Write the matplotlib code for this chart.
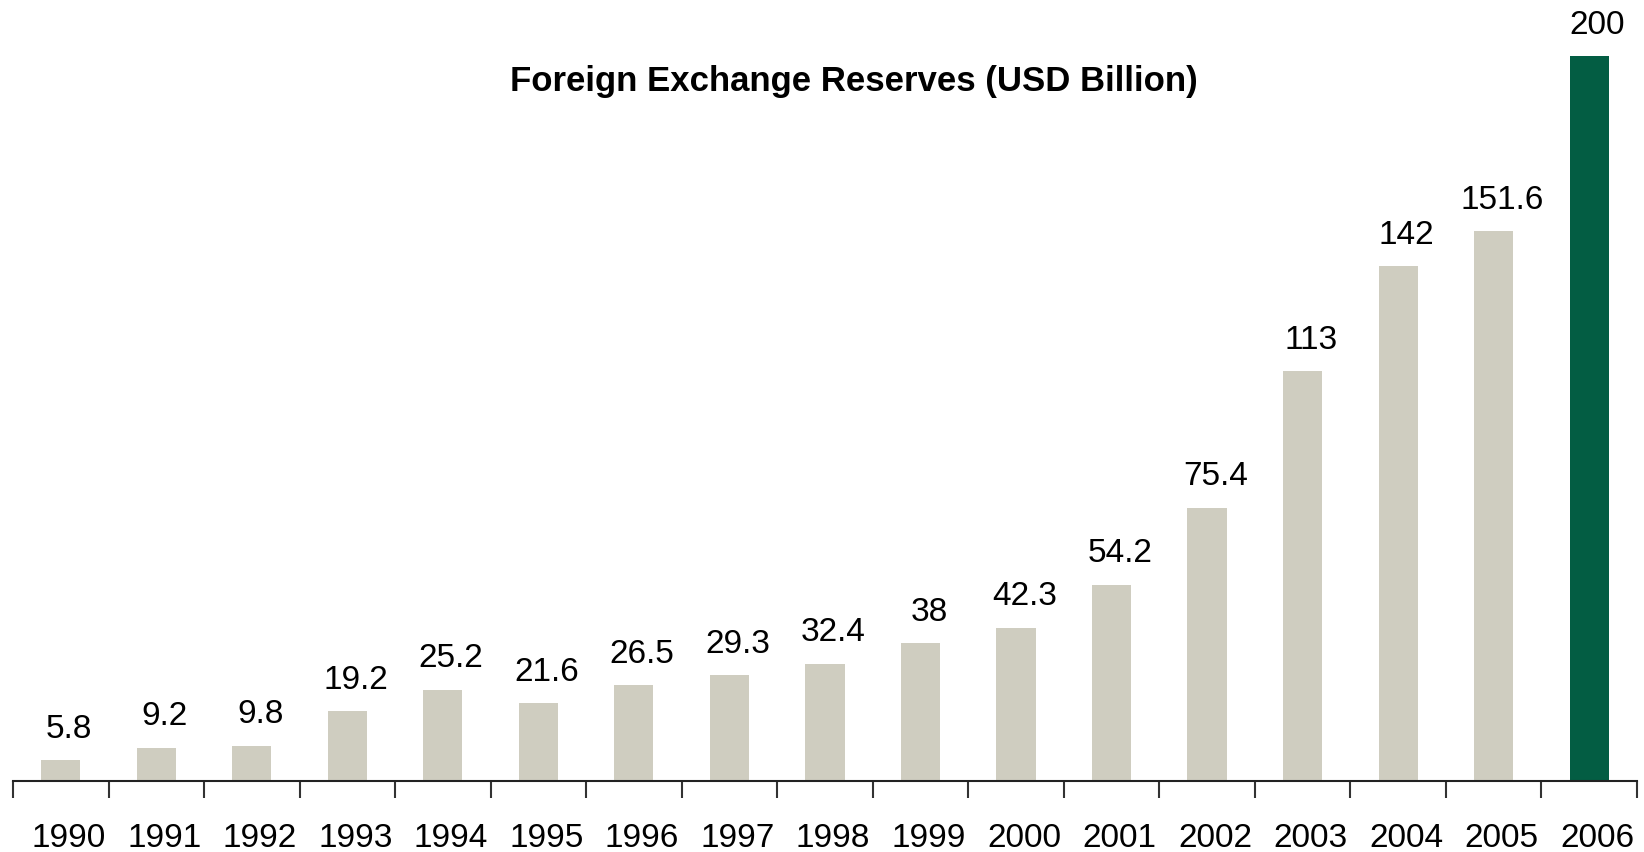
import matplotlib
matplotlib.use("Agg")
import matplotlib.pyplot as plt
import matplotlib.transforms as mtransforms
import numpy as np

plt.rcParams['font.family'] = ['Liberation Sans', 'DejaVu Sans']

years = ["1990", "1991", "1992", "1993", "1994", "1995", "1996", "1997", "1998",
         "1999", "2000", "2001", "2002", "2003", "2004", "2005", "2006"]
reserves = [5.8, 9.2, 9.8, 19.2, 25.2, 21.6, 26.5, 29.3, 32.4,
            38, 42.3, 54.2, 75.4, 113, 142, 151.6, 200]
value_labels = ["5.8", "9.2", "9.8", "19.2", "25.2", "21.6", "26.5", "29.3", "32.4",
                "38", "42.3", "54.2", "75.4", "113", "142", "151.6", "200"]
title = "Foreign Exchange Reserves (USD Billion)"

beige = "#CFCDC0"
green = "#035D43"

fig = plt.figure(figsize=(16.44, 8.52), dpi=100)
ax = fig.add_axes([0.0079, 0.0833, 0.9878, 0.9167])

x = np.arange(len(years))
colors = [beige] * (len(years) - 1) + [green]
ax.bar(x, reserves, width=0.41, color=colors, zorder=2)

for xi, val, lab in zip(x, reserves, value_labels):
    ax.annotate(lab, (xi, val), xytext=(6, 16), textcoords="offset points",
                ha="center", va="baseline", fontsize=24, color="black",
                annotation_clip=False)

ax.set_xlim(-0.5, len(years) - 0.5)
ax.set_ylim(0, 215.45)

for side in ["top", "right", "left"]:
    ax.spines[side].set_visible(False)
ax.spines["bottom"].set_linewidth(1.5)
ax.spines["bottom"].set_color("#222222")

ax.set_yticks([])
ax.set_xticks(x)
ax.set_xticklabels(years, fontsize=24)
ax.tick_params(axis="x", which="major", length=0, pad=30)
ax.set_xticks(np.arange(-0.5, len(years)), minor=True)
ax.tick_params(axis="x", which="minor", length=12, width=1.5, color="#333333",
               direction="out")

# nudge year labels slightly to the right
shift = mtransforms.ScaledTranslation(8 / 100, 0, fig.dpi_scale_trans)
for lbl in ax.get_xticklabels():
    lbl.set_transform(lbl.get_transform() + shift)

fig.text(854 / 1644, 1 - 81 / 852, title, ha="center", va="center",
         fontsize=25, fontweight="bold")

fig.savefig("out.png", dpi=100, facecolor="white")
